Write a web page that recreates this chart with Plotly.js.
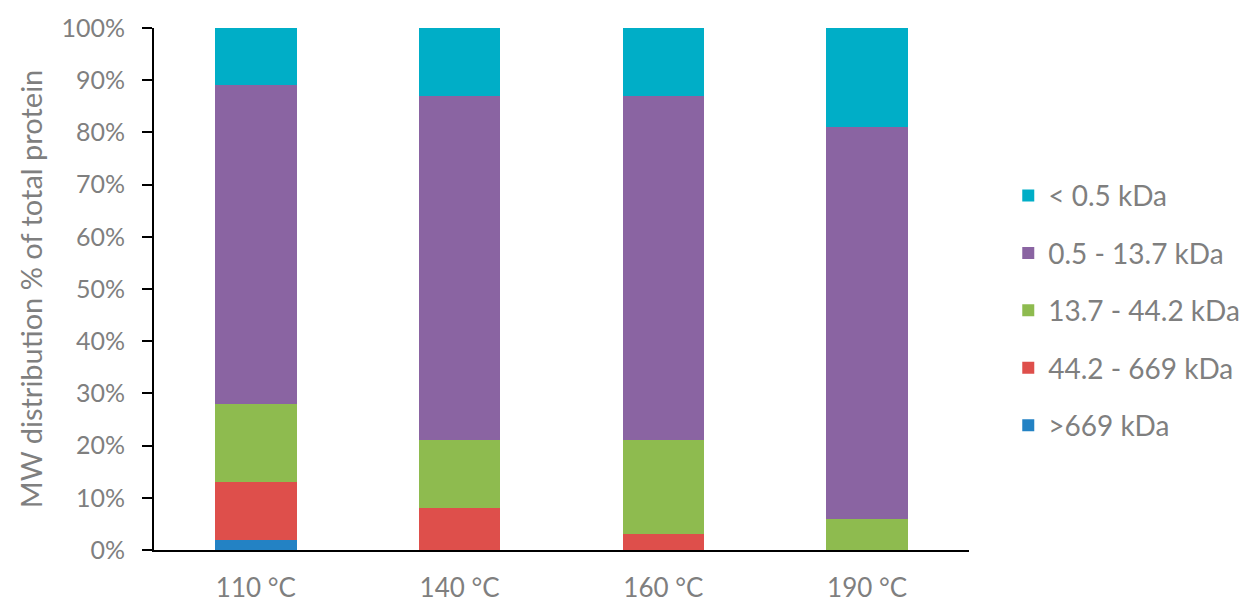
<!DOCTYPE html>
<html>
<head>
<meta charset="utf-8">
<script src="https://cdn.plot.ly/plotly-3.0.1.min.js"></script>
<style>html,body{margin:0;padding:0;background:#fff;}#chart{width:1244px;height:605px;}</style>
</head>
<body>
<div id="chart"></div>
<script>
const categories = ["110 °C", "140 °C", "160 °C", "190 °C"];
const seriesNames = [">669 kDa", "44.2 - 669 kDa", "13.7 - 44.2 kDa", "0.5 - 13.7 kDa", "< 0.5 kDa"];
const above669 = [2, 0, 0, 0];
const from44to669 = [11, 8, 3, 0];
const from13to44 = [15, 13, 18, 6];
const from05to13 = [61, 66, 66, 75];
const below05 = [11, 13, 13, 19];
const seriesColors = ["#2382C4", "#DE4F4B", "#8EBB4F", "#8A64A2", "#00AEC7"];
const yTickVals = [0, 10, 20, 30, 40, 50, 60, 70, 80, 90, 100];
const yTickText = ["0%", "10%", "20%", "30%", "40%", "50%", "60%", "70%", "80%", "90%", "100%"];

const seriesValues = [above669, from44to669, from13to44, from05to13, below05];
const traces = seriesValues.map((vals, i) => ({
  type: "bar",
  name: seriesNames[i],
  x: categories,
  y: vals,
  legendgroup: "g" + i,
  legendrank: 1000 + (seriesValues.length - i),
  marker: {color: seriesColors[i], line: {width: 0}},
  hoverinfo: "skip"
}));

const gray = "#7F7F7F";
const layout = {
  width: 1244, height: 605,
  barmode: "stack",
  bargap: 0.6,
  paper_bgcolor: "#fff", plot_bgcolor: "#fff",
  margin: {l: 153.5, r: 274.5, t: 27.5, b: 54.5, autoexpand: false},
  font: {family: "Lato, 'Open Sans', sans-serif", color: gray, size: 26},
  showlegend: true,
  legend: {
    xref: "container", yref: "container",
    x: 0.8105, xanchor: "left", y: 0.487, yanchor: "middle",
    traceorder: "grouped",
    tracegroupgap: 18,
    font: {size: 28, color: gray},
    itemwidth: 30
  },
  xaxis: {
    type: "category",
    showline: true, linecolor: "#000", linewidth: 2,
    ticks: "", showgrid: false, zeroline: false,
    tickfont: {size: 26, color: gray},
    ticklabelstandoff: 14
  },
  yaxis: {
    range: [0, 100],
    tickvals: yTickVals,
    ticktext: yTickText,
    showline: true, linecolor: "#000", linewidth: 2,
    ticks: "outside", ticklen: 10, tickwidth: 2, tickcolor: "#000",
    showgrid: false, zeroline: false,
    tickfont: {size: 25, color: gray},
    ticklabelstandoff: 12,
    title: {text: "MW distribution % of total protein", font: {size: 29, color: gray}, standoff: 10}
  }
};

Plotly.newPlot("chart", traces, layout, {displayModeBar: false, staticPlot: true});
</script>
</body>
</html>
